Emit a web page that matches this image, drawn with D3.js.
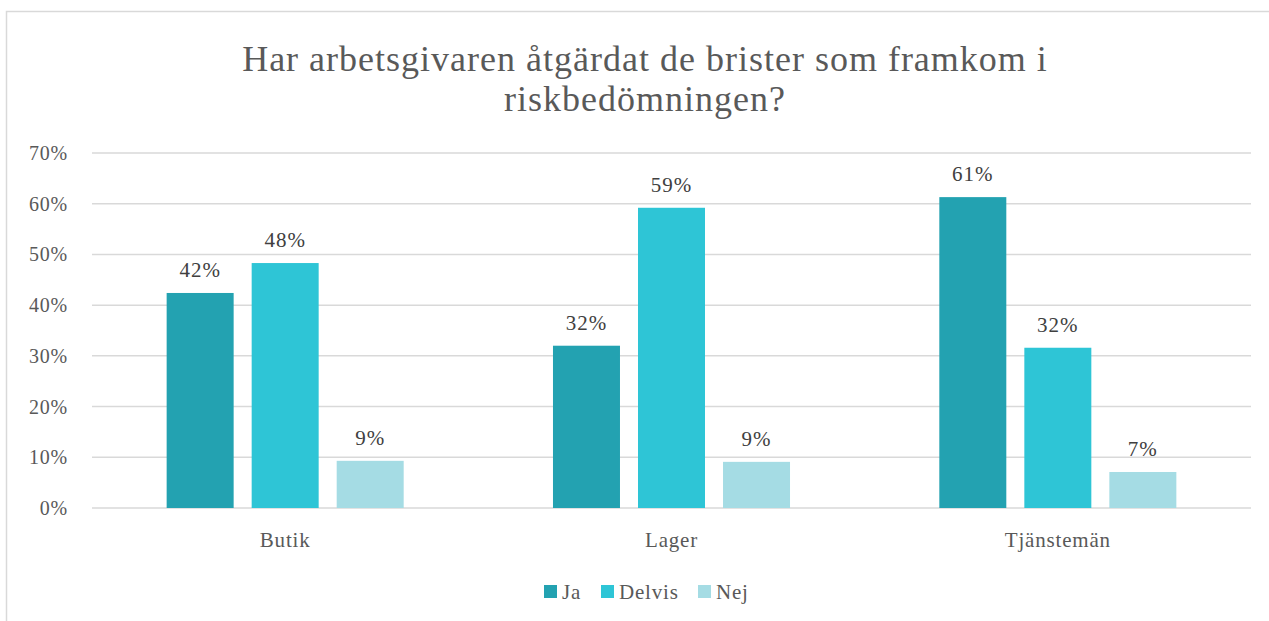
<!DOCTYPE html>
<html>
<head>
<meta charset="utf-8">
<script src="https://cdn.jsdelivr.net/npm/d3@7"></script>
<style>
  body { margin: 0; background: #fff; }
  svg { display: block; font-family: "Liberation Serif", "DejaVu Serif", serif; }
</style>
</head>
<body>
<svg id="chart" width="1269" height="621"></svg>
<script>
// chart data
const categories = ["Butik", "Lager", "Tjänstemän"];
const seriesNames = ["Ja", "Delvis", "Nej"];
const ja = [0.424, 0.320, 0.613];
const delvis = [0.483, 0.592, 0.316];
const nej = [0.093, 0.091, 0.071];
const yTicks = [0, 0.1, 0.2, 0.3, 0.4, 0.5, 0.6, 0.7];
const colors = ["#23a2b1", "#2ec5d6", "#a5dce4"];

const series = [ja, delvis, nej];

const svg = d3.select("#chart");

// outer frame of the chart object
svg.append("rect")
    .attr("x", 6.5).attr("y", 11.5)
    .attr("width", 1300).attr("height", 700)
    .attr("fill", "none")
    .attr("stroke", "#d9d9d9")
    .attr("stroke-width", 1.5);

// title
const title = svg.append("text")
    .attr("text-anchor", "middle")
    .style("font-size", "36px")
    .style("letter-spacing", "1px")
    .style("fill", "#595959");
title.append("tspan").attr("x", 645).attr("y", 71).text("Har arbetsgivaren åtgärdat de brister som framkom i");
title.append("tspan").attr("x", 645).attr("y", 111).text("riskbedömningen?");

const plotLeft = 92, plotRight = 1251, plotTop = 153, plotBottom = 508;

const x0 = d3.scaleBand().domain(categories).range([plotLeft, plotRight]).paddingInner(0).paddingOuter(0);
const x1 = d3.scaleBand().domain(seriesNames).range([0, x0.bandwidth()]).paddingInner(0.212).paddingOuter(0.878);
const y = d3.scaleLinear().domain([0, 0.7]).range([plotBottom, plotTop]);

// gridlines
svg.append("g")
    .selectAll("line")
    .data(yTicks)
    .enter().append("line")
    .attr("x1", plotLeft).attr("x2", plotRight)
    .attr("y1", d => y(d)).attr("y2", d => y(d))
    .attr("stroke", "#d9d9d9")
    .attr("stroke-width", 1.5);

// y axis labels
svg.append("g")
    .selectAll("text")
    .data(yTicks)
    .enter().append("text")
    .attr("x", 68)
    .attr("y", d => y(d) + 7)
    .attr("text-anchor", "end")
    .style("font-size", "20px")
    .style("letter-spacing", "0.8px")
    .style("fill", "#595959")
    .text(d => d3.format(".0%")(d));

// bars
const groups = svg.append("g")
    .selectAll("g")
    .data(categories)
    .enter().append("g")
    .attr("transform", d => `translate(${x0(d)},0)`);

groups.selectAll("rect")
    .data((c, i) => seriesNames.map((s, j) => ({ s: s, v: series[j][i], j: j })))
    .enter().append("rect")
    .attr("x", d => x1(d.s))
    .attr("width", x1.bandwidth())
    .attr("y", d => y(d.v))
    .attr("height", d => y(0) - y(d.v))
    .attr("fill", d => colors[d.j]);

groups.selectAll("text")
    .data((c, i) => seriesNames.map((s, j) => ({ s: s, v: series[j][i], j: j })))
    .enter().append("text")
    .attr("x", d => x1(d.s) + x1.bandwidth() / 2)
    .attr("y", d => y(d.v) - 16)
    .attr("text-anchor", "middle")
    .style("font-size", "21px")
    .style("letter-spacing", "1px")
    .style("fill", "#404040")
    .text(d => d3.format(".0%")(d.v));

// category labels
svg.append("g")
    .selectAll("text")
    .data(categories)
    .enter().append("text")
    .attr("x", d => x0(d) + x0.bandwidth() / 2)
    .attr("y", 547)
    .attr("text-anchor", "middle")
    .style("font-size", "21px")
    .style("letter-spacing", "0.8px")
    .style("fill", "#595959")
    .text(d => d);

// legend
const legendX = [544, 601, 698];
const legend = svg.append("g")
    .selectAll("g")
    .data(seriesNames)
    .enter().append("g")
    .attr("transform", (d, i) => `translate(${legendX[i]},585)`);

legend.append("rect")
    .attr("width", 13).attr("height", 13)
    .attr("fill", (d, i) => colors[i]);

legend.append("text")
    .attr("x", 18)
    .attr("y", 14)
    .style("font-size", "21px")
    .style("letter-spacing", "0.8px")
    .style("fill", "#595959")
    .text(d => d);
</script>
</body>
</html>
